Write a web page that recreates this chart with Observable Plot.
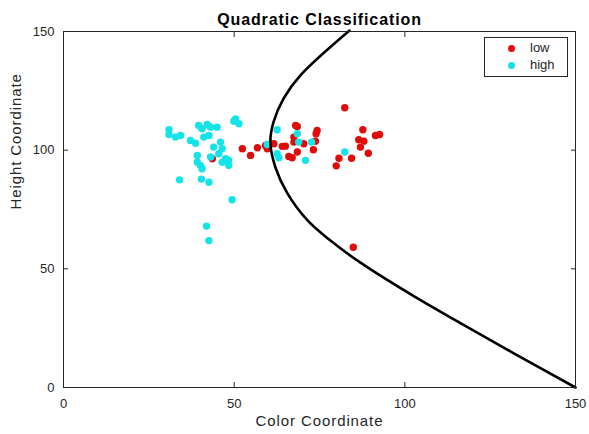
<!DOCTYPE html>
<html>
<head>
<meta charset="utf-8">
<script src="https://cdn.jsdelivr.net/npm/d3@7"></script>
<script src="https://cdn.jsdelivr.net/npm/@observablehq/plot@0.6"></script>
<style>
  html, body { margin: 0; padding: 0; background: #fff; }
  #wrap { position: relative; width: 589px; height: 434px; font-family: "Liberation Sans", Arial, sans-serif; }
  #legend { position: absolute; left: 484px; top: 37px; width: 84px; height: 40px; border: 1px solid #262626; background: #fff; box-sizing: border-box; font-size: 13px; color: #262626; }
  .row { position: absolute; left: 0; height: 14px; line-height: 14px; }
  .sw { position: absolute; left: 23px; top: 4px; width: 7px; height: 7px; border-radius: 50%; }
  .lab { position: absolute; left: 45px; top: 0; white-space: nowrap; }
  .axlab { letter-spacing: 0.9px; }
</style>
</head>
<body>
<div id="wrap"></div>
<script>
// low group (red)
const lowX = [82.4, 68.0, 68.5, 74.3, 74.0, 87.7, 91.4, 92.6, 86.5, 88.0, 87.0, 89.3, 84.4, 80.7, 79.9,
              52.4, 54.8, 56.8, 59.2, 59.7, 61.6, 64.1, 65.0, 67.5, 68.5, 66.0, 67.0, 70.4, 73.2, 73.8, 67.5, 84.9, 43.6];
const lowY = [117.9, 110.4, 110.0, 108.3, 106.9, 108.6, 106.2, 106.6, 104.4, 103.8, 101.3, 98.7, 96.6, 96.6, 93.4,
              100.6, 97.8, 101.0, 102.0, 100.6, 102.7, 101.6, 101.7, 103.4, 99.2, 97.3, 96.8, 102.7, 100.2, 103.8, 105.5, 59.1, 96.4];
// high group (cyan)
const highX = [30.9, 30.9, 32.8, 34.3, 37.2, 38.7, 39.6, 40.6, 42.1, 43.1, 45.0, 41.1, 42.6, 50.4, 51.4, 49.9,
               44.0, 46.0, 46.5, 45.5, 47.5, 48.4, 46.5, 48.4, 39.2, 43.1, 39.2, 40.1, 40.6, 34.0, 40.4, 42.6,
               49.4, 41.9, 42.6, 62.6, 68.5, 59.7, 62.6, 63.1, 68.9, 72.7, 70.9, 82.4];
const highY = [108.6, 106.6, 105.5, 106.2, 104.1, 102.9, 110.4, 109.0, 110.8, 109.7, 109.7, 105.5, 106.2, 113.2, 111.1, 112.2,
               101.3, 103.4, 100.6, 98.5, 96.4, 95.7, 94.9, 93.6, 97.8, 97.1, 94.9, 93.6, 92.2, 87.5, 87.8, 86.5,
               79.1, 68.0, 61.9, 108.6, 106.9, 102.4, 98.5, 96.8, 103.4, 103.4, 95.7, 99.2];
// decision boundary
const curveX = [83.8, 69.4, 64.5, 61.5, 60.6, 62.1, 65.6, 71.5, 78.2, 87.0, 102.5, 117.2, 131.8, 150.0];
const curveY = [150.4, 131.5, 121.8, 111.7, 103.2, 92.7, 81.8, 70.4, 61.9, 52.6, 38.6, 26.4, 14.5, 0.0];
const ticks = [0, 50, 100, 150];
const groups = ["low", "high"];
const colors = ["#e00c0c", "#14e4e8"];

const low = lowX.map((x, i) => ({x, y: lowY[i]}));
const high = highX.map((x, i) => ({x, y: highY[i]}));
const curve = curveX.map((x, i) => ({x, y: curveY[i]}));

const ink = "#262626";
const chart = Plot.plot({
  width: 589, height: 434,
  marginLeft: 63, marginRight: 14, marginTop: 31, marginBottom: 47,
  style: {fontFamily: '"Liberation Sans", Arial, sans-serif', fontSize: "13px", color: ink, background: "#fff"},
  x: {domain: [0, 150]},
  y: {domain: [0, 150]},
  marks: [
    Plot.dot(low, {x: "x", y: "y", r: 3.7, fill: colors[0], stroke: null}),
    Plot.dot(high, {x: "x", y: "y", r: 3.7, fill: colors[1], stroke: null}),
    Plot.line(curve, {x: "x", y: "y", curve: "catmull-rom", stroke: "#000", strokeWidth: 2.6}),
    Plot.frame({stroke: ink, strokeWidth: 1}),
    Plot.axisX({ticks, anchor: "bottom", tickSize: -5, tickPadding: 16, fontSize: 13, label: null}),
    Plot.axisX({ticks, anchor: "top", tickSize: -5, tickFormat: () => "", label: null}),
    Plot.axisY({ticks, anchor: "left", tickSize: -5, tickPadding: 14, fontSize: 13, label: null}),
    Plot.axisY({ticks, anchor: "right", tickSize: -5, tickFormat: () => "", label: null}),
    Plot.text(["Color Coordinate"], {frameAnchor: "bottom", dy: 38, fontSize: 15, fill: ink, className: "axlab"}),
    Plot.text(["Height Coordinate"], {frameAnchor: "left", dx: -47, rotate: -90, fontSize: 15, fill: ink, className: "axlab"}),
    Plot.text(["Quadratic Classification"], {frameAnchor: "top", dy: -18, fontWeight: "bold", fontSize: 16, fill: "#000", className: "axlab"})
  ]
});
const wrap = document.getElementById("wrap");
wrap.appendChild(chart);
const leg = document.createElement("div");
leg.id = "legend";
groups.forEach((g, i) => {
  const row = document.createElement("div");
  row.className = "row";
  row.style.top = (3 + i * 17) + "px";
  row.innerHTML = `<span class="sw" style="background:${colors[i]}"></span><span class="lab">${g}</span>`;
  leg.appendChild(row);
});
wrap.appendChild(leg);
</script>
</body>
</html>
